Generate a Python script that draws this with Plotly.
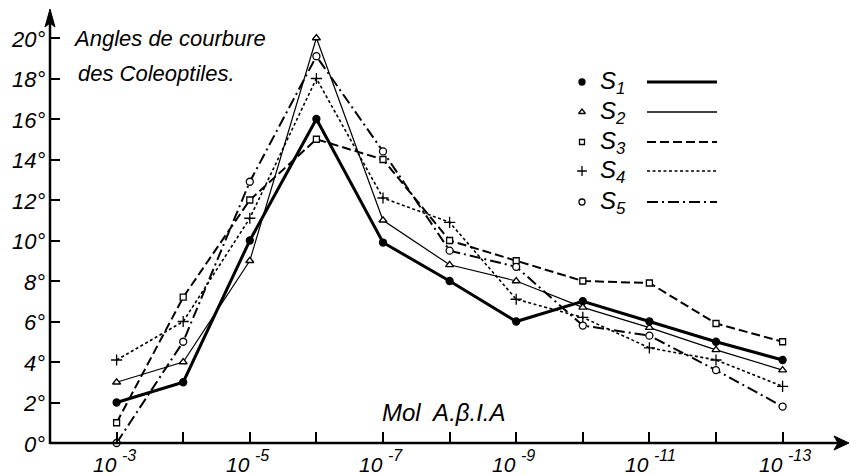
import plotly.graph_objects as go

# ---------------- data ----------------
exponents = [3, 4, 5, 6, 7, 8, 9, 10, 11, 12, 13]          # Mol A.β.I.A = 10^-e
s1 = [2.0, 3.0, 10.0, 16.0, 9.9, 8.0, 6.0, 7.0, 6.0, 5.0, 4.1]
s2 = [3.0, 4.0, 9.0, 20.0, 11.0, 8.8, 8.0, 6.7, 5.7, 4.6, 3.6]
s3 = [1.0, 7.2, 12.0, 15.0, 14.0, 10.0, 9.0, 8.0, 7.9, 5.9, 5.0]
s4 = [4.1, 6.0, 11.1, 18.0, 12.1, 10.9, 7.1, 6.2, 4.7, 4.1, 2.8]
s5 = [0.0, 5.0, 12.9, 19.1, 14.4, 9.5, 8.7, 5.8, 5.3, 3.6, 1.8]
series_labels = ["S<sub>1</sub>", "S<sub>2</sub>", "S<sub>3</sub>", "S<sub>4</sub>", "S<sub>5</sub>"]
x_label_exponents = [3, 5, 7, 9, 11, 13]
x_tick_base = "10"
x_tick_exp = ["-3", "-5", "-7", "-9", "-11", "-13"]
y_ticks = [0, 2, 4, 6, 8, 10, 12, 14, 16, 18, 20]
y_tick_text = [f"{v}°" for v in y_ticks]
title_lines = ["Angles de courbure", "des Coleoptiles."]
x_title = "Mol  A.β.I.A"

# ---------------- styles ----------------
FONT = "Liberation Sans, Arial, sans-serif"
styles = [
    dict(symbol="circle", fill="black", size=7, lw=3.0, dash="solid"),
    dict(symbol="triangle-up", fill="white", size=7, lw=1.2, dash="solid"),
    dict(symbol="square", fill="white", size=6, lw=2.0, dash="9px,4px"),
    dict(symbol="cross-thin", fill="black", size=8, lw=1.6, dash="3px,2.5px"),
    dict(symbol="circle", fill="white", size=7, lw=2.0, dash="11px,4px,2px,4px"),
]
series = [s1, s2, s3, s4, s5]

L, R, T, B = 50, 2, 12, 32
W, H = 850, 475
PX_PER_DEC = 66.6
PX_PER_DEG = 20.25
pw = W - L - R
ph = H - T - B
x_range = [2, 2 + pw / PX_PER_DEC]
y_range = [0, ph / PX_PER_DEG]

fig = go.Figure()

for vals, st in zip(series, styles):
    fig.add_trace(go.Scatter(
        x=exponents, y=vals, mode="lines+markers",
        line=dict(color="black", width=st["lw"], dash=st["dash"]),
        marker=dict(symbol=st["symbol"], size=st["size"], color=st["fill"],
                    line=dict(color="black", width=1.3)),
        showlegend=False, hoverinfo="skip", cliponaxis=False,
    ))

# ---- hand-made legend on a pixel-coordinate overlay axis ----
leg_rows = [82, 112, 142, 171, 202]
for lab, st, yy in zip(series_labels, styles, leg_rows):
    fig.add_trace(go.Scatter(
        x=[582], y=[yy], mode="markers", xaxis="x2", yaxis="y2",
        marker=dict(symbol=st["symbol"], size=st["size"] - 1, color=st["fill"],
                    line=dict(color="black", width=1.3)),
        showlegend=False, hoverinfo="skip"))
    fig.add_trace(go.Scatter(
        x=[647, 717], y=[yy, yy], mode="lines", xaxis="x2", yaxis="y2",
        line=dict(color="black", width=st["lw"] if st["lw"] > 1.5 else 1.5, dash=st["dash"]),
        showlegend=False, hoverinfo="skip"))
    fig.add_annotation(x=598, y=yy, xref="x2", yref="y2", text=lab, showarrow=False,
                       xanchor="left", yanchor="middle",
                       font=dict(family=FONT, size=24, color="black", style="italic"))

def pxx(x):
    return (x - L) / pw

def pxy(y):
    return (H - B - y) / ph

# axis lines + arrow heads (paper coordinates so they are not clipped)
fig.add_shape(type="line", xref="paper", yref="paper", x0=pxx(50), x1=pxx(845),
              y0=pxy(443), y1=pxy(443), line=dict(color="black", width=2.5))
fig.add_shape(type="line", xref="paper", yref="paper", x0=pxx(50), x1=pxx(50),
              y0=pxy(444), y1=pxy(15), line=dict(color="black", width=2.5))
ax_path = (f"M {pxx(834)},{pxy(436)} L {pxx(849)},{pxy(443)} L {pxx(834)},{pxy(450)} "
           f"L {pxx(838)},{pxy(443)} Z")
fig.add_shape(type="path", xref="paper", yref="paper", path=ax_path,
              fillcolor="black", line=dict(color="black", width=1))
ay_path = (f"M {pxx(45)},{pxy(27)} L {pxx(50)},{pxy(9)} L {pxx(55)},{pxy(27)} "
           f"L {pxx(50)},{pxy(23)} Z")
fig.add_shape(type="path", xref="paper", yref="paper", path=ay_path,
              fillcolor="black", line=dict(color="black", width=1))

# tick labels as annotations: "10" left of the tick, exponent raised to the right
for e, ex in zip(x_label_exponents, x_tick_exp):
    fig.add_annotation(x=e, y=pxy(464), xref="x", yref="paper", text=x_tick_base,
                       showarrow=False, xanchor="right", yanchor="middle", xshift=2,
                       font=dict(family=FONT, size=21, color="black", style="italic"))
    fig.add_annotation(x=e, y=pxy(455), xref="x", yref="paper", text=ex,
                       showarrow=False, xanchor="left", yanchor="middle", xshift=3,
                       font=dict(family=FONT, size=16, color="black", style="italic"))
for v, txt in zip(y_ticks, y_tick_text):
    fig.add_annotation(x=pxx(47), y=v, xref="paper", yref="y", text=txt, showarrow=False,
                       xanchor="right", yanchor="middle", yshift=-1,
                       font=dict(family=FONT, size=22, color="black", style="italic"))

for i, line in enumerate(title_lines):
    fig.add_annotation(x=pxx(71 + 5 * i), y=pxy(38 + 35 * i), xref="paper", yref="paper",
                       text=line, showarrow=False, xanchor="left", yanchor="middle",
                       font=dict(family=FONT, size=22, color="black", style="italic"))

fig.add_annotation(x=pxx(380), y=pxy(412), xref="paper", yref="paper", text=x_title,
                   showarrow=False, xanchor="left", yanchor="middle",
                   font=dict(family=FONT, size=24, color="black", style="italic"))

fig.update_layout(
    width=W, height=H,
    margin=dict(l=L, r=R, t=T, b=B, pad=0),
    paper_bgcolor="white", plot_bgcolor="white",
    xaxis=dict(range=x_range, tickvals=exponents, showticklabels=False,
               ticks="inside", ticklen=11, tickwidth=1.5, tickcolor="black",
               showline=False, showgrid=False, zeroline=False),
    yaxis=dict(range=y_range, tickvals=y_ticks, showticklabels=False,
               ticks="inside", ticklen=10, tickwidth=1.5, tickcolor="black",
               showline=False, showgrid=False, zeroline=False),
    xaxis2=dict(overlaying="x", range=[L, W - R], visible=False, anchor="y2"),
    yaxis2=dict(overlaying="y", range=[H - B, T], visible=False, anchor="x2"),
)

fig.write_html("out.html")
